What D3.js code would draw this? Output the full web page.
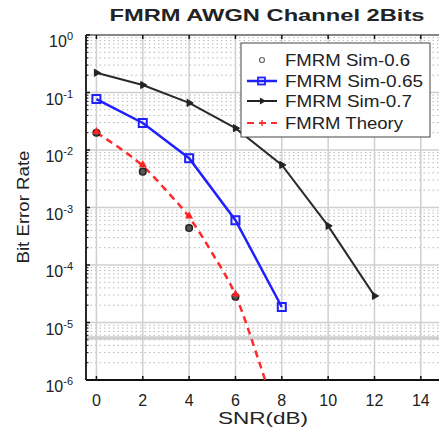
<!DOCTYPE html>
<html><head><meta charset="utf-8">
<script src="https://cdn.jsdelivr.net/npm/d3@7"></script>
<style>body{margin:0;background:#fff}svg{display:block}text{font-family:"Liberation Sans",Arial,sans-serif;fill:#222}</style>
</head><body><svg id="c" width="439" height="430"></svg>
<script>
// ---- data ----
const snrTicks = [0,2,4,6,8,10,12,14];
const yTickExps = [0,-1,-2,-3,-4,-5,-6];
const sim06X = [0,2,4,6];
const sim06 = [0.02,0.0042,0.00044,0.000028];
const sim065X = [0,2,4,6,8];
const sim065 = [0.077,0.0295,0.0072,0.0006,0.0000186];
const sim07X = [0,2,4,6,8,10,12];
const sim07 = [0.22,0.135,0.066,0.024,0.0055,0.00048,0.000029];
const theoryX = [0,1,2,3,4,5,6,7,8];
const theory = [0.02,0.0108,0.0053,0.002,0.00068,0.00016,0.00003,0.0000022,0.00000012];
const legendLabels = ["FMRM Sim-0.6","FMRM Sim-0.65","FMRM Sim-0.7","FMRM Theory"];

const svg = d3.select("#c");
const L=86, T=35, B=380, R=444;
const x = d3.scaleLinear().domain([-0.45,15]).range([L,R]);
const y = d3.scaleLog().domain([1e-6,1]).range([B,T]);

svg.append("defs").append("clipPath").attr("id","clip")
  .append("rect").attr("x",L).attr("y",T-6).attr("width",R-L).attr("height",B-T+6);

const g = svg.append("g");
// minor horizontal grid (dotted)
const minors=[];
for(let e=-6;e<0;e++) for(let k=2;k<=9;k++) minors.push(k*Math.pow(10,e));
g.selectAll(".mn").data(minors).join("line")
  .attr("x1",L).attr("x2",R).attr("y1",d=>y(d)).attr("y2",d=>y(d))
  .attr("stroke","#b8b8b8").attr("stroke-width",1).attr("stroke-dasharray","1.5,3");
// major horizontal grid
g.selectAll(".mj").data(yTickExps).join("line")
  .attr("x1",L).attr("x2",R).attr("y1",d=>y(Math.pow(10,d))).attr("y2",d=>y(Math.pow(10,d)))
  .attr("stroke","#cfcfcf").attr("stroke-width",1.5);
// raster artifact band
g.append("line").attr("x1",L).attr("x2",R).attr("y1",y(5.4e-6)).attr("y2",y(5.4e-6))
  .attr("stroke","#cfcfcf").attr("stroke-width",3.5);
// vertical grid
g.selectAll(".vg").data(snrTicks).join("line")
  .attr("x1",d=>x(d)).attr("x2",d=>x(d)).attr("y1",T).attr("y2",B)
  .attr("stroke","#cfcfcf").attr("stroke-width",1.5);

// axes frame
svg.append("line").attr("x1",L).attr("x2",R).attr("y1",T).attr("y2",T).attr("stroke","#333").attr("stroke-width",1);
svg.append("line").attr("x1",L).attr("x2",R).attr("y1",B).attr("y2",B).attr("stroke","#111").attr("stroke-width",1.8);
svg.append("line").attr("x1",L).attr("x2",L).attr("y1",T).attr("y2",B).attr("stroke","#111").attr("stroke-width",1.8);
// x ticks inward
snrTicks.forEach(t=>{
  svg.append("line").attr("x1",x(t)).attr("x2",x(t)).attr("y1",B).attr("y2",B-4).attr("stroke","#111").attr("stroke-width",1.5);
  svg.append("line").attr("x1",x(t)).attr("x2",x(t)).attr("y1",T).attr("y2",T+4).attr("stroke","#111").attr("stroke-width",1.5);
});
yTickExps.forEach(e=>{
  svg.append("line").attr("x1",L).attr("x2",L+4).attr("y1",y(Math.pow(10,e))).attr("y2",y(Math.pow(10,e))).attr("stroke","#111").attr("stroke-width",1.5);
});
minors.forEach(m=>{
  svg.append("line").attr("x1",L).attr("x2",L+2.5).attr("y1",y(m)).attr("y2",y(m)).attr("stroke","#111").attr("stroke-width",1);
});

// tick labels
svg.selectAll(".xl").data(snrTicks).join("text")
  .attr("x",d=>x(d)).attr("y",406).attr("text-anchor","middle").attr("font-size",16).text(d=>d);
const yl = svg.selectAll(".yl").data(yTickExps).join("text")
  .attr("x",73).attr("y",d=>y(Math.pow(10,d))+12).attr("text-anchor","end").attr("font-size",16);
yl.append("tspan").text("10");
yl.append("tspan").attr("font-size",11).attr("dy",-7).text(d=>d===0?"0":"-"+(-d));

// titles
svg.append("text").attr("x",267).attr("y",21).attr("text-anchor","middle").attr("font-size",16.5)
  .attr("font-weight","bold").attr("textLength",315).attr("lengthAdjust","spacingAndGlyphs").attr("fill","#111")
  .text("FMRM AWGN Channel 2Bits");
svg.append("text").attr("x",263).attr("y",424).attr("text-anchor","middle").attr("font-size",17)
  .attr("textLength",90).attr("lengthAdjust","spacingAndGlyphs").text("SNR(dB)");
svg.append("text").attr("transform","translate(29,207) rotate(-90)").attr("text-anchor","middle").attr("font-size",17)
  .attr("textLength",113).attr("lengthAdjust","spacingAndGlyphs").text("Bit Error Rate");

// data
const plot = svg.append("g").attr("clip-path","url(#clip)");
const line = (xs)=>d3.line().x((d,i)=>x(xs[i])).y(d=>y(d));
const thLine = d3.line().curve(d3.curveMonotoneX).x((d,i)=>x(theoryX[i])).y(d=>y(d));
plot.append("path").attr("d",thLine(theory)).attr("fill","none").attr("stroke","#ff2a2a").attr("stroke-width",2.5).attr("stroke-dasharray","7,5");
plot.append("path").attr("d",line(sim065X)(sim065)).attr("fill","none").attr("stroke","#1f1fff").attr("stroke-width",2.5);
plot.append("path").attr("d",line(sim07X)(sim07)).attr("fill","none").attr("stroke","#2a2a2a").attr("stroke-width",2);

// markers
plot.selectAll(".s06").data(sim06).join("circle").attr("cx",(d,i)=>x(sim06X[i])).attr("cy",d=>y(d)).attr("r",3.3)
  .attr("fill","#555").attr("stroke","#222").attr("stroke-width",1.5);
const triUp = d3.symbol().type(d3.symbolTriangle).size(28);
plot.selectAll(".th").data(theory.filter((d,i)=>theoryX[i]%2===0 && theoryX[i]<=6)).join("path")
  .attr("transform",(d,i)=>`translate(${x(theoryX[i*2])},${y(d)-1})`).attr("d",triUp).attr("fill","#ff2020");
plot.selectAll(".s065").data(sim065).join("rect").attr("x",(d,i)=>x(sim065X[i])-4).attr("y",d=>y(d)-4)
  .attr("width",8).attr("height",8).attr("fill","none").attr("stroke","#1f1fff").attr("stroke-width",2);
const triR = d3.symbol().type(d3.symbolTriangle).size(22);
plot.selectAll(".s07").data(sim07).join("path")
  .attr("transform",(d,i)=>`translate(${x(sim07X[i])},${y(d)}) rotate(90)`).attr("d",triR).attr("fill","#222").attr("stroke","#222").attr("stroke-width",1);

// legend
const lg = svg.append("g");
lg.append("rect").attr("x",241).attr("y",43).attr("width",189).attr("height",94).attr("fill","#fff").attr("stroke","#444").attr("stroke-width",1);
const rowsY=[60,81,101,123];
const tl=[125,138,127,118];
legendLabels.forEach((lab,i)=>{
  lg.append("text").attr("x",285).attr("y",rowsY[i]+6).attr("font-size",17).attr("textLength",tl[i])
    .attr("lengthAdjust","spacingAndGlyphs").text(lab);
});
lg.append("circle").attr("cx",262).attr("cy",rowsY[0]).attr("r",2.5).attr("fill","none").attr("stroke","#666").attr("stroke-width",1.2);
lg.append("line").attr("x1",247).attr("x2",277).attr("y1",rowsY[1]).attr("y2",rowsY[1]).attr("stroke","#1f1fff").attr("stroke-width",2.5);
lg.append("rect").attr("x",258).attr("y",rowsY[1]-3.5).attr("width",7).attr("height",7).attr("fill","none").attr("stroke","#1f1fff").attr("stroke-width",1.8);
lg.append("line").attr("x1",247).attr("x2",277).attr("y1",rowsY[2]).attr("y2",rowsY[2]).attr("stroke","#222").attr("stroke-width",2);
lg.append("path").attr("transform",`translate(262,${rowsY[2]}) rotate(90)`).attr("d",triR).attr("fill","#222");
lg.append("line").attr("x1",247).attr("x2",277).attr("y1",rowsY[3]).attr("y2",rowsY[3]).attr("stroke","#ff2a2a").attr("stroke-width",2).attr("stroke-dasharray","7,5");
lg.append("line").attr("x1",262).attr("x2",262).attr("y1",rowsY[3]-3).attr("y2",rowsY[3]+3).attr("stroke","#ff2a2a").attr("stroke-width",1.5);
</script></body></html>
